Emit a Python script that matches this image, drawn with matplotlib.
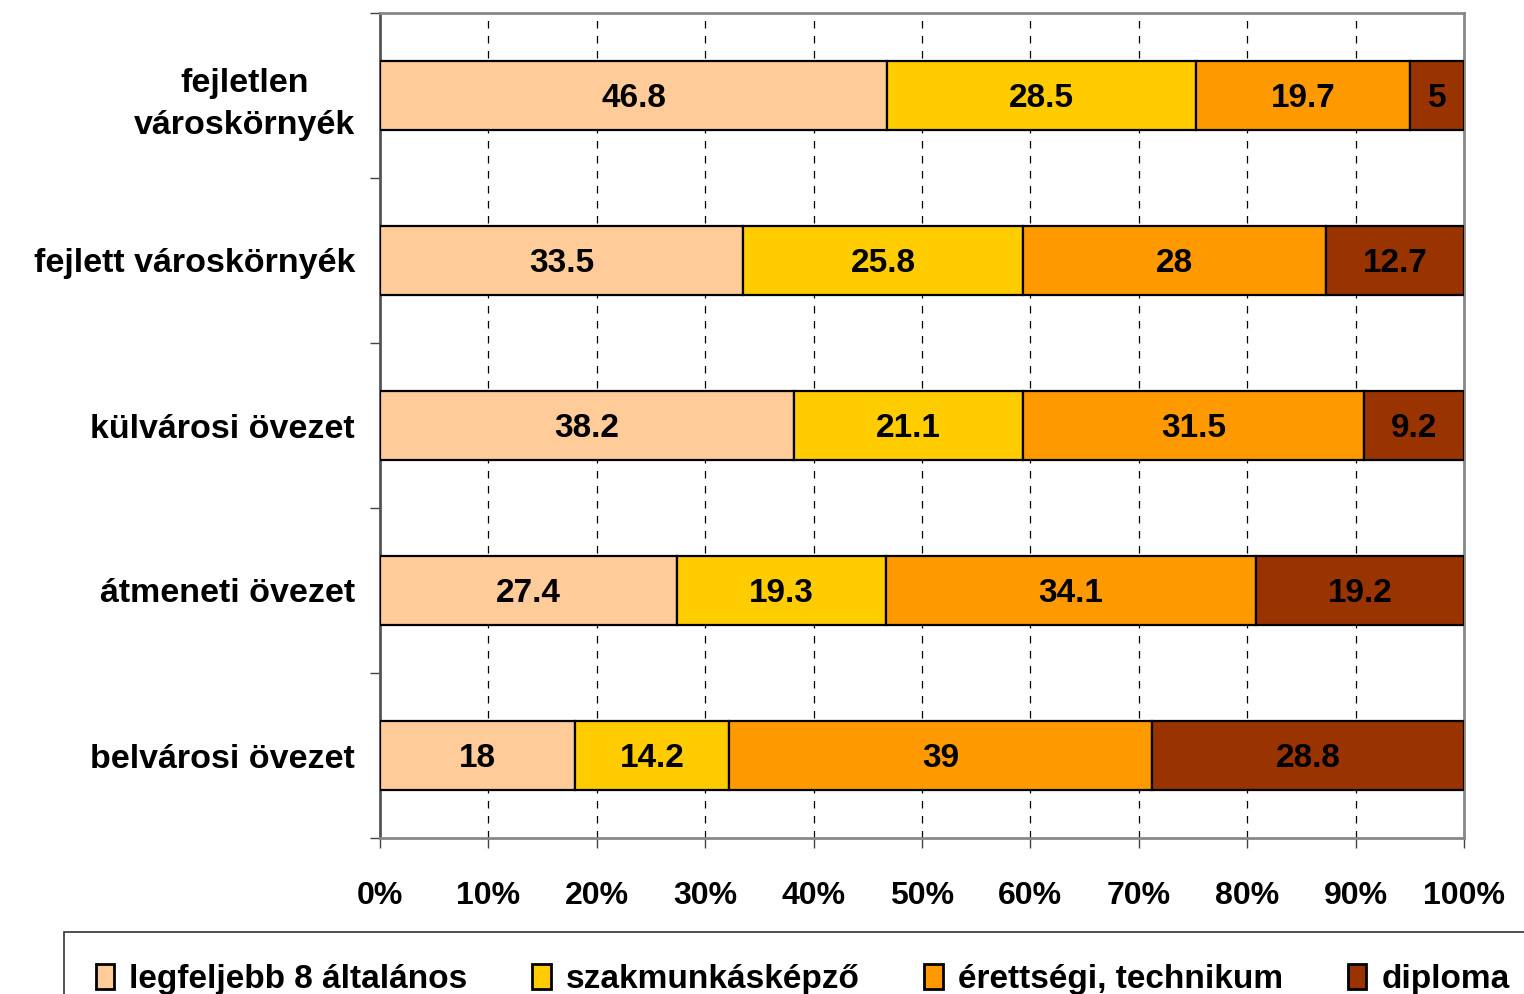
import matplotlib.pyplot as plt
import numpy as np

plt.rcParams['font.family'] = ['Liberation Sans', 'DejaVu Sans']
plt.rcParams['font.weight'] = 'bold'

categories = ['fejletlen\nvároskörnyék', 'fejlett városkörnyék', 'külvárosi övezet',
              'átmeneti övezet', 'belvárosi övezet']
series_names = ['legfeljebb 8 általános', 'szakmunkásképző', 'érettségi, technikum', 'diploma']
values = {
    'legfeljebb 8 általános': [46.8, 33.5, 38.2, 27.4, 18],
    'szakmunkásképző': [28.5, 25.8, 21.1, 19.3, 14.2],
    'érettségi, technikum': [19.7, 28, 31.5, 34.1, 39],
    'diploma': [5, 12.7, 9.2, 19.2, 28.8],
}
colors = ['#FFCC99', '#FFCC00', '#FF9900', '#993300']
xtick_labels = ['0%', '10%', '20%', '30%', '40%', '50%', '60%', '70%', '80%', '90%', '100%']

fig = plt.figure(figsize=(15.24, 9.94), dpi=100)
ax = fig.add_axes([380 / 1524, 1 - 838 / 994, (1464 - 380) / 1524, (838 - 13) / 994])

y = np.arange(len(categories))
left = np.zeros(len(categories))
for name, col in zip(series_names, colors):
    vals = np.array(values[name], dtype=float)
    bars = ax.barh(y, vals, left=left, height=0.42, color=col, edgecolor='black',
                   linewidth=1.6, label=name, zorder=3)
    for b, v in zip(bars, vals):
        ax.text(b.get_x() + b.get_width() / 2, b.get_y() + b.get_height() / 2 + 0.02,
                f'{v:g}', ha='center', va='center', fontsize=24, fontweight='bold',
                zorder=4)
    left += vals

ax.set_xlim(0, 100)
ax.set_ylim(len(categories) - 0.5, -0.5)
ax.set_xticks(np.arange(0, 101, 10))
ax.set_xticklabels(xtick_labels, fontsize=23, fontweight='bold')
ax.set_yticks(y)
ax.set_yticklabels(categories, fontsize=24.5, fontweight='bold', multialignment='center',
                   linespacing=1.45)
ax.set_yticks(np.arange(-0.5, len(categories), 1), minor=True)
ax.tick_params(axis='y', which='major', length=0, pad=18)
ax.tick_params(axis='y', which='minor', length=7, width=1, direction='out', color='#444444')
ax.tick_params(axis='x', length=7, width=1, direction='out', color='#444444', pad=24)

ax.grid(axis='x', color='black', linestyle=(0, (6, 6)), linewidth=0.9, zorder=1)
for s in ax.spines.values():
    s.set_color('#888888')
    s.set_linewidth(2)
ax.spines['left'].set_color('#555555')

leg = fig.legend(loc='upper left', bbox_to_anchor=(64 / 1524, 1 - 932 / 994), ncol=4,
                 fontsize=24, frameon=True, fancybox=False, edgecolor='black',
                 handlelength=0.55, handleheight=0.8, handletextpad=0.45,
                 columnspacing=1.95, borderpad=0.95, borderaxespad=0)
leg.get_frame().set_linewidth(1.2)
for h in leg.legend_handles:
    h.set_linewidth(2)

fig.savefig('out.png', dpi=100)
